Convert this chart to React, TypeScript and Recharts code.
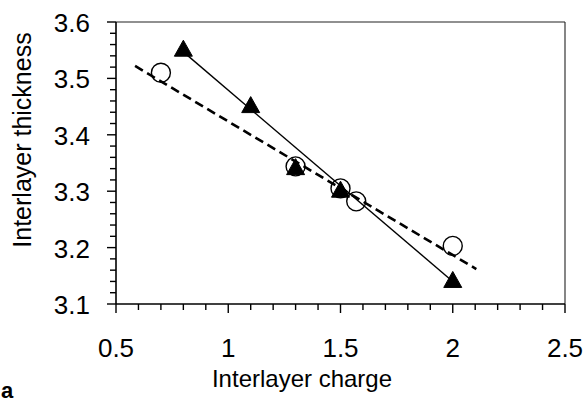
import React from "react";
import {
  ComposedChart,
  XAxis,
  YAxis,
  Scatter,
  ReferenceLine,
} from "recharts";

// ---- data ----
const triangleX = [0.8, 1.1, 1.3, 1.5, 2.0];
const triangleY = [3.55, 3.45, 3.34, 3.3, 3.14];

const circleX = [0.7, 1.3, 1.5, 1.57, 2.0];
const circleY = [3.51, 3.344, 3.305, 3.282, 3.203];

const solidFitX = [0.8, 2.0];
const solidFitY = [3.547, 3.14];

const dashFitX = [0.585, 2.105];
const dashFitY = [3.522, 3.162];

const xMajorTicks = [0.5, 1, 1.5, 2, 2.5];
const xAllTicks = [
  0.5, 0.6, 0.7, 0.8, 0.9, 1, 1.1, 1.2, 1.3, 1.4, 1.5, 1.6, 1.7, 1.8, 1.9, 2,
  2.1, 2.2, 2.3, 2.4, 2.5,
];
const yMajorTicks = [3.1, 3.2, 3.3, 3.4, 3.5, 3.6];
const yAllTicks = [
  3.1, 3.12, 3.14, 3.16, 3.18, 3.2, 3.22, 3.24, 3.26, 3.28, 3.3, 3.32, 3.34,
  3.36, 3.38, 3.4, 3.42, 3.44, 3.46, 3.48, 3.5, 3.52, 3.54, 3.56, 3.58, 3.6,
];

const xTitle = "Interlayer charge";
const yTitle = "Interlayer thickness";
const panelLabel = "a";

const zip = (xs: number[], ys: number[]) => xs.map((x, i) => ({ x, y: ys[i] }));
const triangleData = zip(triangleX, triangleY);
const circleData = zip(circleX, circleY);
const solidFitData = zip(solidFitX, solidFitY);
const dashFitData = zip(dashFitX, dashFitY);

const FONT = "'Liberation Sans', Arial, Helvetica, sans-serif";

const XTick = (props: any) => {
  const { x, y, payload } = props;
  const v = payload.value;
  const major = xMajorTicks.includes(v);
  return (
    <g>
      <line x1={x} x2={x} y1={y} y2={y + (major ? 9 : 6)} stroke="#000" strokeWidth={1.4} />
      {major && (
        <text
          x={x}
          y={y + 53}
          textAnchor="middle"
          fontFamily={FONT}
          fontSize={26}
          fill="#000"
        >
          {String(v)}
        </text>
      )}
    </g>
  );
};

const YTick = (props: any) => {
  const { x, y, payload } = props;
  const v = payload.value;
  const major = yMajorTicks.includes(v);
  return (
    <g>
      <line x1={x - (major ? 9 : 6)} x2={x} y1={y} y2={y} stroke="#000" strokeWidth={1.4} />
      {major && (
        <text
          x={x - 26}
          y={y + 10}
          textAnchor="end"
          fontFamily={FONT}
          fontSize={26}
          fill="#000"
        >
          {String(v)}
        </text>
      )}
    </g>
  );
};

const Triangle = (props: any) => {
  const { cx, cy } = props;
  if (cx == null || cy == null) return null;
  const w = 9;
  return (
    <polygon
      points={`${cx},${cy - 10} ${cx + w},${cy + 6} ${cx - w},${cy + 6}`}
      fill="#000"
      stroke="#000"
      strokeWidth={1}
    />
  );
};

const OpenCircle = (props: any) => {
  const { cx, cy } = props;
  if (cx == null || cy == null) return null;
  return <circle cx={cx} cy={cy} r={9.5} fill="none" stroke="#000" strokeWidth={1.4} />;
};

const NoShape = () => null;

export default function App() {
  return (
    <div style={{ position: "absolute", left: 0, top: 0, width: 588, height: 409, background: "#fff" }}>
      <ComposedChart
        width={588}
        height={409}
        margin={{ top: 22, right: 23, left: 0, bottom: 0 }}
      >
        <XAxis
          type="number"
          dataKey="x"
          domain={[0.5, 2.5]}
          ticks={xAllTicks}
          interval={0}
          height={105}
          tickSize={0}
          tickMargin={0}
          tickLine={false}
          tick={<XTick />}
          axisLine={{ stroke: "#000", strokeWidth: 1.6 }}
          allowDataOverflow
        />
        <YAxis
          type="number"
          dataKey="y"
          domain={[3.1, 3.6]}
          ticks={yAllTicks}
          interval={0}
          width={116}
          tickSize={0}
          tickMargin={0}
          tickLine={false}
          tick={<YTick />}
          axisLine={{ stroke: "#000", strokeWidth: 1.6 }}
          allowDataOverflow
        />
        <ReferenceLine y={3.6} stroke="#222" strokeWidth={1.1} />
        <ReferenceLine x={2.5} stroke="#222" strokeWidth={1.1} />
        <Scatter
          data={dashFitData}
          line={{ stroke: "#000", strokeWidth: 2.6, strokeDasharray: "9 5" }}
          shape={<NoShape />}
          isAnimationActive={false}
        />
        <Scatter
          data={solidFitData}
          line={{ stroke: "#000", strokeWidth: 1.4 }}
          shape={<NoShape />}
          isAnimationActive={false}
        />
        <Scatter data={circleData} shape={<OpenCircle />} isAnimationActive={false} />
        <Scatter data={triangleData} shape={<Triangle />} isAnimationActive={false} />
      </ComposedChart>
      <svg
        width={588}
        height={409}
        style={{ position: "absolute", left: 0, top: 0, pointerEvents: "none" }}
      >
        <text
          transform="translate(31,140) rotate(-90)"
          textAnchor="middle"
          fontFamily={FONT}
          fontSize={25}
          fill="#000"
        >
          {yTitle}
        </text>
        <text x={302} y={387} textAnchor="middle" fontFamily={FONT} fontSize={24} fill="#000">
          {xTitle}
        </text>
        <text x={1} y={398} fontFamily={FONT} fontSize={22} fontWeight="bold" fill="#000">
          {panelLabel}
        </text>
      </svg>
    </div>
  );
}
